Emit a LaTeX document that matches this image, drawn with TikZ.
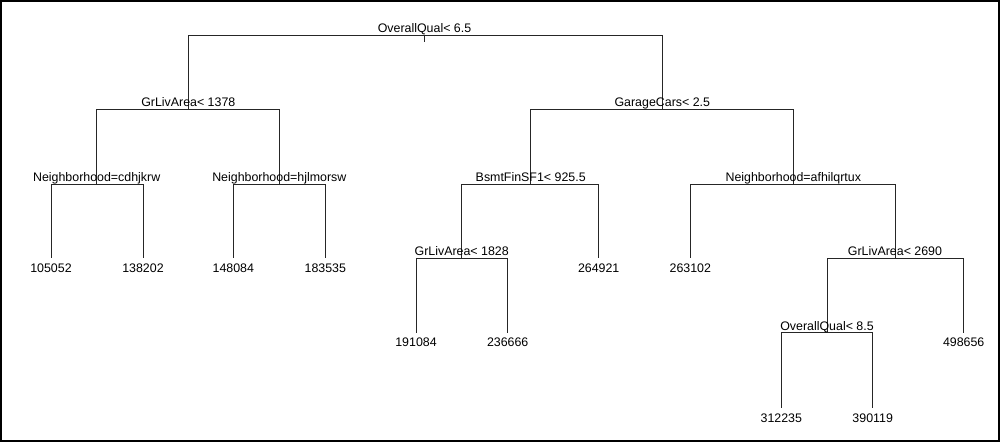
\documentclass[tikz,border=0pt]{standalone}
\usepackage{fontspec}
\setmainfont{Liberation Sans}
\begin{document}
\begin{tikzpicture}[x=1pt,y=-1pt,
  branch/.style={draw=black!85,line width=0.9pt},
  splitlab/.style={inner sep=0pt,anchor=base,font=\fontsize{12.4}{14}\selectfont},
  leaflab/.style={inner sep=0pt,anchor=base,font=\fontsize{12.4}{14}\selectfont}]
\useasboundingbox (0,0) rectangle (1000,442);
\draw[line width=1.8pt] (0.9,0.9) rectangle (999.1,441.1);
% split points
\coordinate (r)   at (424.5,35);
\coordinate (rt)  at (424.5,42);
\coordinate (n2)  at (188.3,109.3);
\coordinate (n3)  at (662.3,109.3);
\coordinate (n4)  at (96.7,184.3);
\coordinate (n5)  at (279.3,184.3);
\coordinate (n6)  at (530.7,184.3);
\coordinate (n7)  at (793.3,184.3);
\coordinate (n8)  at (461.7,258.3);
\coordinate (n9)  at (895,258.3);
\coordinate (n10) at (827,332.7);
% leaves
\coordinate (l1)  at (51,258.3);
\coordinate (l2)  at (143,258.3);
\coordinate (l3)  at (233.3,258.3);
\coordinate (l4)  at (325.3,258.3);
\coordinate (l5)  at (598.7,258.3);
\coordinate (l6)  at (690.3,258.3);
\coordinate (l7)  at (416,332.7);
\coordinate (l8)  at (507.7,332.7);
\coordinate (l9)  at (963.7,332.7);
\coordinate (l10) at (781.3,408.3);
\coordinate (l11) at (872.7,408.3);
% branches
\draw[branch] (r) -- (rt);
\draw[branch] (r) -| (n2);
\draw[branch] (r) -| (n3);
\draw[branch] (n2) -| (n4);
\draw[branch] (n2) -| (n5);
\draw[branch] (n3) -| (n6);
\draw[branch] (n3) -| (n7);
\draw[branch] (n4) -| (l1);
\draw[branch] (n4) -| (l2);
\draw[branch] (n5) -| (l3);
\draw[branch] (n5) -| (l4);
\draw[branch] (n6) -| (n8);
\draw[branch] (n6) -| (l5);
\draw[branch] (n7) -| (l6);
\draw[branch] (n7) -| (n9);
\draw[branch] (n8) -| (l7);
\draw[branch] (n8) -| (l8);
\draw[branch] (n9) -| (n10);
\draw[branch] (n9) -| (l9);
\draw[branch] (n10) -| (l10);
\draw[branch] (n10) -| (l11);
% split labels
\node[splitlab] (tr)  at ([yshift=2.5pt]r)  {OverallQual< 6.5};
\node[splitlab] (t2)  at ([yshift=2.5pt]n2) {GrLivArea< 1378};
\node[splitlab] (t3)  at ([yshift=2.5pt]n3) {GarageCars< 2.5};
\node[splitlab] (t4)  at ([yshift=2.5pt]n4) {Neighborhood=cdhjkrw};
\node[splitlab] (t5)  at ([yshift=2.5pt]n5) {Neighborhood=hjlmorsw};
\node[splitlab] (t6)  at ([yshift=2.5pt]n6) {BsmtFinSF1< 925.5};
\node[splitlab] (t7)  at ([yshift=2.5pt]n7) {Neighborhood=afhilqrtux};
\node[splitlab] (t8)  at ([yshift=2.5pt]n8) {GrLivArea< 1828};
\node[splitlab] (t9)  at ([yshift=2.5pt]n9) {GrLivArea< 2690};
\node[splitlab] (t10) at ([yshift=2.5pt]n10) {OverallQual< 8.5};
% leaf labels
\node[leaflab] (v1)  at ([yshift=-14pt]l1)  {105052};
\node[leaflab] (v2)  at ([yshift=-14pt]l2)  {138202};
\node[leaflab] (v3)  at ([yshift=-14pt]l3)  {148084};
\node[leaflab] (v4)  at ([yshift=-14pt]l4)  {183535};
\node[leaflab] (v5)  at ([yshift=-14pt]l5)  {264921};
\node[leaflab] (v6)  at ([yshift=-14pt]l6)  {263102};
\node[leaflab] (v7)  at ([yshift=-14pt]l7)  {191084};
\node[leaflab] (v8)  at ([yshift=-14pt]l8)  {236666};
\node[leaflab] (v9)  at ([yshift=-14pt]l9)  {498656};
\node[leaflab] (v10) at ([yshift=-14pt]l10) {312235};
\node[leaflab] (v11) at ([yshift=-14pt]l11) {390119};
\end{tikzpicture}
\end{document}
